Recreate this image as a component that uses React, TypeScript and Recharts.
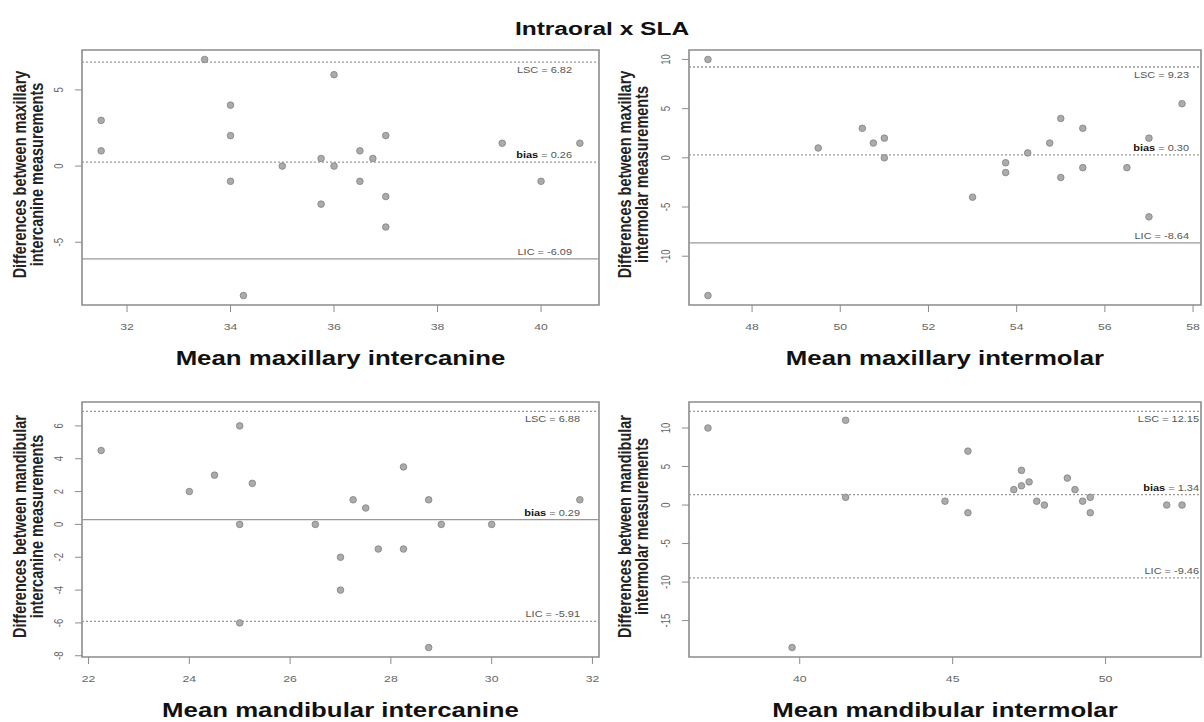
import React from "react";
import {
  ScatterChart,
  Scatter,
  XAxis,
  YAxis,
  ReferenceLine,
  ReferenceArea,
} from "recharts";

// mean of the two methods (x) and difference between them (y)
const maxCanMean = [31.5, 31.5, 33.5, 34, 34, 34, 34.25, 35, 35.75, 35.75, 36, 36, 36.5, 36.5, 36.75, 37, 37, 37, 39.25, 40, 40.75];
const maxCanDiff = [3, 1, 7, 4, 2, -1, -8.5, 0, 0.5, -2.5, 6, 0, 1, -1, 0.5, 2, -2, -4, 1.5, -1, 1.5];

const maxMolMean = [47, 47, 49.5, 50.5, 50.75, 51, 51, 53, 53.75, 53.75, 54.25, 54.75, 55, 55, 55.5, 55.5, 56.5, 57, 57, 57.75];
const maxMolDiff = [10, -14, 1, 3, 1.5, 2, 0, -4, -0.5, -1.5, 0.5, 1.5, 4, -2, 3, -1, -1, 2, -6, 5.5];

const manCanMean = [22.25, 24, 24.5, 25, 25, 25, 25.25, 26.5, 27, 27, 27.25, 27.5, 27.75, 28.25, 28.25, 28.75, 28.75, 29, 30, 31.75];
const manCanDiff = [4.5, 2, 3, 6, 0, -6, 2.5, 0, -2, -4, 1.5, 1, -1.5, 3.5, -1.5, 1.5, -7.5, 0, 0, 1.5];

const manMolMean = [37, 39.75, 41.5, 41.5, 44.75, 45.5, 45.5, 47, 47.25, 47.25, 47.5, 47.75, 48, 48.75, 49, 49.25, 49.5, 49.5, 52, 52.5];
const manMolDiff = [10, -18.5, 11, 1, 0.5, 7, -1, 2, 2.5, 4.5, 3, 0.5, 0, 3.5, 2, 0.5, 1, -1, 0, 0];

// limits: upper (LSC), bias, lower (LIC)
const limitNames = ["LSC", "bias", "LIC"];
const maxCanLimits = [6.82, 0.26, -6.09];
const maxMolLimits = [9.23, 0.3, -8.64];
const manCanLimits = [6.88, 0.29, -5.91];
const manMolLimits = [12.15, 1.34, -9.46];

const maxCanXTicks = [32, 34, 36, 38, 40];
const maxMolXTicks = [48, 50, 52, 54, 56, 58];
const manCanXTicks = [22, 24, 26, 28, 30, 32];
const manMolXTicks = [40, 45, 50];

const maxCanYTicks = [-5, 0, 5];
const maxMolYTicks = [-10, -5, 0, 5, 10];
const manCanYTicks = [-8, -6, -4, -2, 0, 2, 4, 6];
const manMolYTicks = [-15, -10, -5, 0, 5, 10];

const title = "Intraoral x SLA";

const SX = 1.29; // the picture is stretched sideways
const FONT = "'Liberation Sans', Arial, Helvetica, sans-serif";
const GRAY = "#8c8c8c";

const panels = [
  {
    mean: maxCanMean, diff: maxCanDiff, limits: maxCanLimits,
    xTicks: maxCanXTicks, yTicks: maxCanYTicks,
    xTitle: "Mean maxillary intercanine",
    yTitle: ["Differences between maxillary", "intercanine measurements"],
    left: 0, top: 0, width: 602, axisW: 82, inset: 27,
    dash: ["2 2", "2 2", "0"],
  },
  {
    mean: maxMolMean, diff: maxMolDiff, limits: maxMolLimits,
    xTicks: maxMolXTicks, yTicks: maxMolYTicks,
    xTitle: "Mean maxillary intermolar",
    yTitle: ["Differences between maxillary", "intermolar measurements"],
    left: 604, top: 0, width: 600, axisW: 85, inset: 12,
    dash: ["2 2", "2 2", "0"],
  },
  {
    mean: manCanMean, diff: manCanDiff, limits: manCanLimits,
    xTicks: manCanXTicks, yTicks: manCanYTicks,
    xTitle: "Mean mandibular intercanine",
    yTitle: ["Differences between mandibular", "intercanine measurements"],
    left: 0, top: 352, width: 602, axisW: 82, inset: 19,
    dash: ["2 2", "0", "2 2"],
  },
  {
    mean: manMolMean, diff: manMolDiff, limits: manMolLimits,
    xTicks: manMolXTicks, yTicks: manMolYTicks,
    xTitle: "Mean mandibular intermolar",
    yTitle: ["Differences between mandibular", "intermolar measurements"],
    left: 604, top: 352, width: 600, axisW: 85, inset: 2,
    dash: ["2 2", "2 2", "2 2"],
  },
];

// R style axis range: data range plus 4% each side
function pad(values: number[]): [number, number] {
  const lo = Math.min(...values);
  const hi = Math.max(...values);
  const d = (hi - lo) * 0.04;
  return [lo - d, hi + d];
}

const XTick = (props: any) => {
  const { x, y, payload } = props;
  return (
    <text
      transform={`translate(${x},${y + 18}) scale(${SX},1)`}
      textAnchor="middle"
      fontSize={9.5}
      fill="#666"
      fontFamily={FONT}
    >
      {payload.value}
    </text>
  );
};

const YTick = (props: any) => {
  const { x, y, payload } = props;
  return (
    <text
      transform={`translate(${x - 12.5},${y}) scale(${SX},1) rotate(-90)`}
      textAnchor="middle"
      fontSize={9.5}
      fill="#666"
      fontFamily={FONT}
    >
      {payload.value}
    </text>
  );
};

const Dot = (props: any) => (
  <circle cx={props.cx} cy={props.cy} r={3.3} fill="#ababab" stroke="#808080" strokeWidth={0.8} />
);

function limitLabel(name: string, value: number, inset: number) {
  return (props: any) => {
    const vb = props.viewBox;
    const x = vb.x + vb.width - inset;
    const y = name === "LSC" ? vb.y + 11 : vb.y - 4;
    return (
      <text
        transform={`translate(${x},${y}) scale(${SX},1)`}
        textAnchor="end"
        fontSize={8.5}
        fill="#555"
        fontFamily={FONT}
      >
        {name === "bias" ? (
          <>
            <tspan fontWeight="bold" fill="#111">bias</tspan>
            <tspan>{` = ${value.toFixed(2)}`}</tspan>
          </>
        ) : (
          `${name} = ${value.toFixed(2)}`
        )}
      </text>
    );
  };
}

function Panel({ p }: { p: (typeof panels)[number] }) {
  const data = p.mean.map((m, i) => ({ x: m, y: p.diff[i] }));
  const xDom = pad(p.mean);
  const yDom = pad([...p.diff, ...p.limits]);
  return (
    <div style={{ position: "absolute", left: p.left, top: p.top }}>
      <ScatterChart
        width={p.width}
        height={340}
        margin={{ top: 50, right: 3, bottom: 0, left: 0 }}
      >
        <XAxis
          type="number"
          dataKey="x"
          domain={xDom}
          ticks={p.xTicks}
          allowDataOverflow
          height={35}
          tickSize={7}
          tickMargin={0}
          axisLine={false}
          tickLine={{ stroke: GRAY }}
          tick={<XTick />}
        />
        <YAxis
          type="number"
          dataKey="y"
          domain={yDom}
          ticks={p.yTicks}
          allowDataOverflow
          width={p.axisW}
          tickSize={7}
          tickMargin={0}
          axisLine={false}
          tickLine={{ stroke: GRAY }}
          tick={<YTick />}
        />
        <ReferenceArea
          x1={xDom[0]}
          x2={xDom[1]}
          y1={yDom[0]}
          y2={yDom[1]}
          fill="none"
          fillOpacity={0}
          stroke={GRAY}
          strokeWidth={1.6}
          ifOverflow="visible"
        />
        {p.limits.map((v, i) => (
          <ReferenceLine
            key={limitNames[i]}
            y={v}
            stroke="#999"
            strokeWidth={1.3}
            strokeDasharray={p.dash[i]}
            label={limitLabel(limitNames[i], v, p.inset)}
          />
        ))}
        <Scatter data={data} shape={<Dot />} isAnimationActive={false} />
      </ScatterChart>
    </div>
  );
}

export default function App() {
  return (
    <div
      style={{
        position: "absolute",
        left: 0,
        top: 0,
        width: 1204,
        height: 722,
        background: "#fff",
        overflow: "hidden",
        fontFamily: FONT,
      }}
    >
      {panels.map((p, i) => (
        <Panel key={i} p={p} />
      ))}

      <svg
        width={1204}
        height={722}
        style={{ position: "absolute", left: 0, top: 0, pointerEvents: "none" }}
      >
        <text
          transform={`translate(602,35) scale(${SX},1)`}
          textAnchor="middle"
          fontSize={19}
          fontWeight="bold"
          fill="#111"
          fontFamily={FONT}
        >
          {title}
        </text>

        {panels.map((p, i) => {
          const plotLeft = p.left + p.axisW;
          const plotRight = p.left + p.width - 3;
          const cx = (plotLeft + plotRight) / 2;
          const cy = p.top + (50 + 305) / 2 - 3;
          return (
            <g key={i}>
              <text
                transform={`translate(${cx},${p.top + 365}) scale(${SX},1)`}
                textAnchor="middle"
                fontSize={20}
                fontWeight="bold"
                fill="#111"
                fontFamily={FONT}
              >
                {p.xTitle}
              </text>
              {p.yTitle.map((line, j) => (
                <text
                  key={j}
                  transform={`translate(${p.left + 26 + j * 17 + (p.left ? 1 : 0)},${cy}) scale(${SX},1) rotate(-90)`}
                  textAnchor="middle"
                  fontSize={14.5}
                  fontWeight="bold"
                  fill="#222"
                  fontFamily={FONT}
                >
                  {line}
                </text>
              ))}
            </g>
          );
        })}
      </svg>
    </div>
  );
}
